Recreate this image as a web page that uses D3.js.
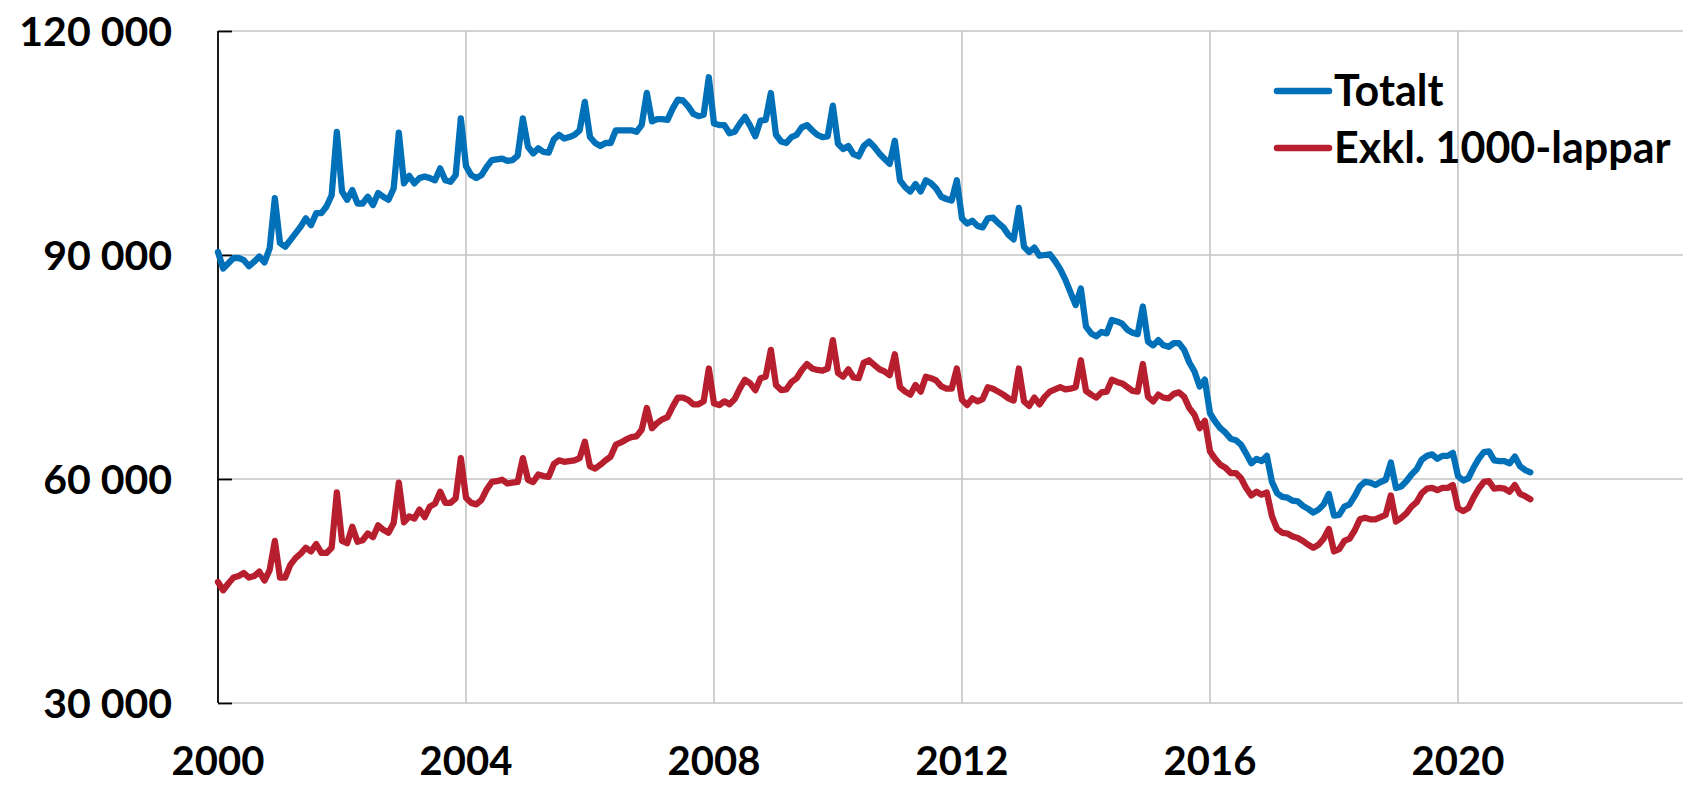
<!DOCTYPE html>
<html>
<head>
<meta charset="utf-8">
<script src="https://cdn.jsdelivr.net/npm/d3@7"></script>
<style>
body{margin:0;background:#fff;overflow:hidden;}
text{font-family:Lato,"Open Sans",sans-serif;font-weight:700;fill:#000;}
</style>
</head>
<body>
<svg id="chart"></svg>
<script>
// monthly series, thousands, Jan 2000 - Mar 2021

w=1683;
h=785;

// data (tusental)
var startYear=2000;
var totalt=[
90.4,88.2,88.9,89.6,89.6,89.3,88.5,89.1,89.8,89.0,90.9,97.6,
91.6,91.1,92.0,92.9,93.8,94.9,94.0,95.6,95.6,96.5,98.0,106.5,
98.5,97.4,98.7,96.9,96.9,97.8,96.7,98.3,97.8,97.4,98.9,106.4,
99.6,100.6,99.6,100.3,100.5,100.3,100.0,101.6,100.0,99.8,100.7,108.3,
101.9,100.7,100.3,100.7,101.8,102.7,102.8,102.9,102.6,102.7,103.3,108.3,
104.5,103.6,104.3,103.8,103.7,105.5,106.1,105.6,105.8,106.1,106.7,110.5,
105.8,105.0,104.6,105.0,105.0,106.7,106.7,106.7,106.7,106.5,107.4,111.7,
107.9,108.2,108.2,108.1,109.6,110.8,110.7,109.9,108.9,108.6,108.8,113.8,
107.6,107.4,107.4,106.3,106.5,107.6,108.5,107.3,105.9,108.0,108.1,111.7,
106.1,105.2,105.0,105.8,106.1,107.1,107.4,106.7,106.1,105.8,105.9,110.0,
104.9,104.2,104.6,103.5,103.2,104.6,105.2,104.5,103.6,102.9,102.2,105.3,
100.0,99.1,98.5,99.5,98.5,100.0,99.6,98.9,97.8,97.5,97.3,100.0,
94.9,94.2,94.6,93.9,93.7,94.9,95.0,94.3,93.7,92.7,92.1,96.3,
91.1,90.4,91.0,89.9,90.0,90.1,89.2,88.1,86.7,85.0,83.3,85.5,
80.4,79.5,79.1,79.7,79.5,81.3,81.1,80.8,80.0,79.6,79.4,83.1,
78.4,77.9,78.6,77.9,77.7,78.2,78.2,77.3,75.6,74.4,72.4,73.3,
68.8,67.7,66.8,66.2,65.4,65.2,64.6,63.4,62.1,62.7,62.4,63.1,
59.6,58.1,57.6,57.5,57.1,57.0,56.4,56.0,55.5,55.9,56.6,58.0,
55.1,55.2,56.3,56.6,57.7,59.0,59.6,59.5,59.2,59.6,59.9,62.2,
58.8,59.0,59.7,60.6,61.3,62.6,63.1,63.3,62.7,63.1,63.1,63.5,
60.4,59.8,60.1,61.5,62.7,63.6,63.7,62.5,62.4,62.4,62.1,63.0,
61.7,61.2,60.9];
var exkl1000=[
46.2,45.1,46.0,46.8,47.0,47.4,46.8,47.0,47.6,46.4,47.8,51.7,
46.8,46.8,48.5,49.4,50.0,50.8,50.3,51.3,50.1,50.1,50.8,58.2,
51.7,51.4,53.6,51.6,51.8,52.7,52.2,53.8,53.2,52.8,54.1,59.5,
54.2,55.0,54.7,55.9,54.9,56.3,56.7,58.3,56.8,56.8,57.4,62.8,
57.5,56.8,56.6,57.2,58.6,59.6,59.7,59.9,59.4,59.5,59.6,62.8,
59.9,59.6,60.6,60.4,60.3,62.0,62.5,62.3,62.4,62.5,62.8,65.0,
61.7,61.4,61.9,62.5,63.0,64.6,64.9,65.3,65.6,65.7,66.6,69.5,
66.8,67.5,68.0,68.3,69.7,70.9,70.9,70.6,70.0,70.0,70.4,74.8,
70.1,69.9,70.4,70.0,70.7,72.1,73.3,72.8,71.9,73.5,73.7,77.3,
72.6,71.9,72.0,73.0,73.5,74.6,75.4,74.8,74.6,74.5,74.8,78.6,
74.2,73.7,74.7,73.6,73.5,75.6,75.9,75.3,74.7,74.4,73.9,76.7,
72.3,71.7,71.3,72.6,71.7,73.7,73.5,73.2,72.4,72.1,72.1,74.8,
70.6,69.9,70.8,70.4,70.7,72.3,72.1,71.7,71.3,70.8,70.5,74.8,
70.4,69.8,70.9,70.0,71.0,71.7,72.0,72.3,72.0,72.1,72.3,75.9,
71.8,71.3,70.9,71.6,71.7,73.3,73.0,72.8,72.3,71.8,71.7,75.4,
71.0,70.4,71.3,70.9,70.8,71.4,71.6,71.0,69.5,68.6,66.8,67.8,
63.7,62.7,61.9,61.5,60.8,60.8,60.1,58.8,57.8,58.3,57.9,58.2,
55.0,53.3,52.8,52.7,52.3,52.1,51.7,51.2,50.8,51.2,52.0,53.3,
50.3,50.6,51.7,52.0,53.1,54.6,54.8,54.6,54.6,54.9,55.2,57.8,
54.3,54.8,55.4,56.3,56.9,58.1,58.7,58.8,58.5,58.8,58.8,59.2,
56.1,55.7,56.1,57.5,58.7,59.6,59.7,58.7,58.8,58.7,58.3,59.2,
58.0,57.7,57.3];
var yTicks=[30,60,90,120];
var yLabels=["30 000","60 000","90 000","120 000"];
var xTicks=[2000,2004,2008,2012,2016,2020];
var seriesNames=["Totalt","Exkl. 1000-lappar"];
var seriesColors=["#0070b8","#b81f2e"];

var svg=d3.select("#chart").attr("width",w).attr("height",h);

// scales
var x=d3.scaleLinear().domain([2000,2024]).range([218,1706]);
var y=d3.scaleLinear().domain([30,120]).range([703,31]);

// grid
svg.append("g").selectAll("line").data(yTicks).enter().append("line")
	.attr("x1",218).attr("x2",w)
	.attr("y1",function(d) {return y(d);}).attr("y2",function(d) {return y(d);})
	.style("stroke","#c4c4c4").style("stroke-width",1.6);
svg.append("g").selectAll("line").data(xTicks.slice(1)).enter().append("line")
	.attr("x1",function(d) {return x(d);}).attr("x2",function(d) {return x(d);})
	.attr("y1",y(120)).attr("y2",y(30))
	.style("stroke","#c4c4c4").style("stroke-width",1.6);

// y axis: line + inner ticks
var yAxis=d3.axisRight(y).tickValues(yTicks).tickSize(14).tickFormat("");
var gy=svg.append("g").attr("transform","translate(218,0)").call(yAxis);
gy.select(".domain").attr("d","M0,"+y(120)+"V"+y(30)).style("stroke","#000").style("stroke-width",1.8);
gy.selectAll(".tick line").style("stroke","#000").style("stroke-width",1.8);

svg.append("g").selectAll("text").data(yTicks).enter().append("text")
	.attr("x",172).attr("y",function(d) {return y(d)+14.5;})
	.attr("text-anchor","end").style("font-size","41px")
	.text(function(d,i) {return yLabels[i];});

svg.append("g").selectAll("text").data(xTicks).enter().append("text")
	.attr("x",function(d) {return x(d);}).attr("y",775)
	.attr("text-anchor","middle").style("font-size","40px")
	.text(function(d) {return d;});

// lines
var line=d3.line()
	.x(function(d,i) {return x(startYear+i/12);})
	.y(function(d) {return y(d);});

[totalt,exkl1000].forEach(function(s,k) {
	svg.append("path").datum(s)
		.attr("d",line)
		.style("fill","none")
		.style("stroke",seriesColors[k])
		.style("stroke-width",6.3)
		.style("stroke-linejoin","round")
		.style("stroke-linecap","round");
});

// legend
var leg=svg.append("g").selectAll("g").data(seriesNames).enter().append("g")
	.attr("transform",function(d,i) {return "translate(1275,"+(91+i*57)+")";});
leg.append("line").attr("x1",2).attr("x2",54)
	.style("stroke",function(d,i) {return seriesColors[i];})
	.style("stroke-width",6.5).style("stroke-linecap","round");
leg.append("text").attr("x",59).attr("y",15)
	.style("font-size","43px")
	.text(function(d) {return d;});
</script>
</body>
</html>
